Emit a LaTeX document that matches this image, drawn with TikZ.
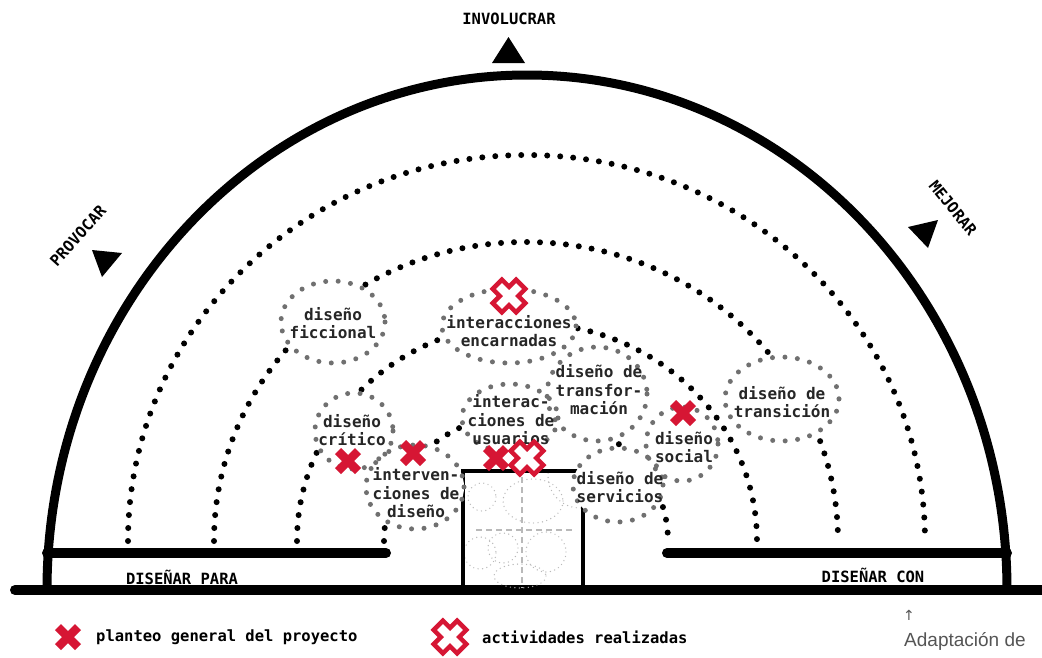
\documentclass[tikz,border=0pt]{standalone}
\usepackage{fontspec}
\setmainfont{DejaVu Sans Mono}
\newfontfamily\notefont{Liberation Sans}
\newfontfamily\arrowfont{DejaVu Sans}
\usetikzlibrary{positioning}
\definecolor{xred}{RGB}{214,22,52}
\definecolor{dotgray}{RGB}{112,112,112}
\definecolor{notegray}{RGB}{85,85,85}
\begin{document}
\begin{tikzpicture}[x=1pt,y=-1pt,
  bigdots/.style={line width=6pt,line cap=round,dash pattern=on 0pt off 13pt},
  graydots/.style={dotgray,line width=5pt,line cap=round,dash pattern=on 0pt off 12.5pt},
  faintdots/.style={gray!55,line width=1.4pt,line cap=round,dash pattern=on 0pt off 4.5pt},
  faintdash/.style={gray!55,line width=1.2pt,dash pattern=on 6pt off 4pt},
  lbl/.style={align=center,font=\fontsize{16}{18.5}\selectfont\bfseries,text=black!85,inner sep=0pt},
  caps/.style={font=\fontsize{15.5}{18}\selectfont\bfseries,inner sep=0pt},
  legend/.style={anchor=west,font=\fontsize{15.5}{18}\selectfont\bfseries,inner sep=0pt},
  xsolid/.pic={\draw[xred,line width=8.5pt] (-10,-10) -- (10,10) (-10,10) -- (10,-10);},
  xhollow/.pic={\draw[xred,line width=4.5pt,fill=white,rotate=45]
    (6.5,16.5) -- (6.5,6.5) -- (16.5,6.5) -- (16.5,-6.5) -- (6.5,-6.5) -- (6.5,-16.5) --
    (-6.5,-16.5) -- (-6.5,-6.5) -- (-16.5,-6.5) -- (-16.5,6.5) -- (-6.5,6.5) -- (-6.5,16.5) -- cycle;}]
  \useasboundingbox[fill=white] (0,0) rectangle (1042,657);

  \draw[line width=10pt,line cap=round] (15,590) -- (1042,590);
  \draw[line width=9pt] (47,590) arc[start angle=180,end angle=0,x radius=480pt,y radius=515pt];
  \draw[line width=10pt,line cap=round] (47,553) -- (386,553);
  \draw[line width=10pt,line cap=round] (667,553) -- (1007,553);

  \begin{scope}
    \clip (465,473) rectangle (581,588);
    \draw[faintdots] (482,497) circle[radius=14];
    \draw[faintdots] (533,501) ellipse[x radius=30,y radius=22];
    \draw[faintdots] (580,476) circle[radius=32];
    \draw[faintdots] (480,553) circle[radius=16];
    \draw[faintdots] (503,548) circle[radius=15];
    \draw[faintdots] (546,552) circle[radius=20];
    \draw[faintdots] (520,576) ellipse[x radius=26,y radius=12];
    \draw[faintdash] (476,530) -- (572,530);
    \draw[faintdash] (522,477) -- (522,588);
  \end{scope}
  \draw[line width=4pt] (463,590) -- (463,471) -- (583,471) -- (583,590);

  \draw[bigdots] (128,541) arc[start angle=180,end angle=0,x radius=398.5pt,y radius=386pt];
  \draw[bigdots] (214,541) arc[start angle=180,end angle=0,x radius=312pt,y radius=299pt];
  \draw[bigdots] (297,541) arc[start angle=180,end angle=0,x radius=230pt,y radius=218pt];
  \draw[bigdots] (384,541) arc[start angle=180,end angle=0,x radius=142pt,y radius=128pt];

  \foreach \cx/\cy/\rx/\ry in {333/322/52/41, 509/326/67/37, 354/431/39/38,
      415/487/49/42, 510/418/48/34, 597/394/50/47, 618/485/45/37, 682/444/36/37,
      782/399/57/42}
    \fill[white] (\cx,\cy) ellipse[x radius=\rx,y radius=\ry];
  \foreach \cx/\cy/\rx/\ry in {333/322/52/41, 509/326/67/37, 354/431/39/38,
      415/487/49/42, 510/418/48/34, 597/394/50/47, 618/485/45/37, 682/444/36/37,
      782/399/57/42}
    \draw[graydots] (\cx,\cy) ellipse[x radius=\rx,y radius=\ry];

  \node[lbl] (ficcional) at (333,323) {diseño\\ficcional};
  \node[lbl] (encarnadas) at (509,331) {interacciones\\encarnadas};
  \node[lbl] (critico) at (352,430) {diseño\\crítico};
  \node[lbl] (intervenciones) at (416,493) {interven-\\ciones de\\diseño};
  \node[lbl] (usuarios) at (511,420) {interac-\\ciones de\\usuarios};
  \node[lbl] (transformacion) at (599,390) {diseño de\\transfor-\\mación};
  \node[lbl] (servicios) at (620,487) {diseño de\\servicios};
  \node[lbl] (social) at (684,447) {diseño\\social};
  \node[lbl] (transicion) at (782,402) {diseño de\\transición};

  \pic at (509,296) {xhollow};
  \pic at (348,461) {xsolid};
  \pic at (413,453) {xsolid};
  \pic at (496,458) {xsolid};
  \pic at (527,458) {xhollow};
  \pic at (683,413) {xsolid};

  \fill (492,63) -- (525,63) -- (508.5,37) -- cycle;
  \fill (92,250) -- (122,253) -- (102,277) -- cycle;
  \fill (908,227) -- (938,220) -- (928,248) -- cycle;
  \node[caps] (involucrar) at (509,19) {INVOLUCRAR};
  \node[caps,rotate=48] (provocar) at (78,236) {PROVOCAR};
  \node[caps,rotate=-51] (mejorar) at (953,208) {MEJORAR};
  \node[caps] (para) at (182,577) {DISEÑAR PARA};
  \node[caps] (con) at (873,575) {DISEÑAR CON};

  \pic at (68,637) {xsolid};
  \node[legend] (planteo) at (96,637) {planteo general del proyecto};
  \pic at (450,637) {xhollow};
  \node[legend] (actividades) at (482,637) {actividades realizadas};
  \node[anchor=west,inner sep=0pt,text=notegray,font=\arrowfont\fontsize{14}{16}\selectfont] (flecha) at (903,615) {↑};
  \node[anchor=west,inner sep=0pt,text=notegray,font=\notefont\fontsize{19}{22}\selectfont] (fuente) at (904,641) {Adaptación de};
\end{tikzpicture}
\end{document}
